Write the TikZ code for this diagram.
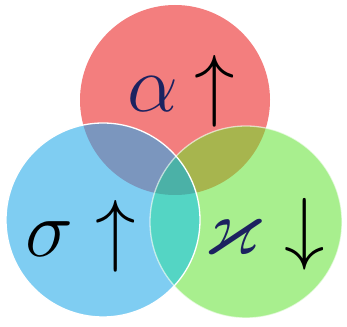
\documentclass[tikz,border=0pt]{standalone}
\usepackage{amssymb}

\definecolor{rosso}{HTML}{F37E7E}
\definecolor{azzurro}{HTML}{7FCDF2}
\definecolor{verde}{HTML}{A8EF8E}
\definecolor{rossoazzurro}{HTML}{7B96BE}
\definecolor{rossoverde}{HTML}{A7B54E}
\definecolor{azzurroverde}{HTML}{54D5C4}
\definecolor{centro}{HTML}{4BB1A7}
\definecolor{blunotte}{HTML}{1C2260}

\begin{document}
\begin{tikzpicture}[
			x=1pt, y=1pt,
			bordo/.style={draw=white, line width=1.3pt},
			simbolo/.style={anchor=base, inner sep=0pt, scale=3.25,
				font=\fontsize{24.88}{30}\selectfont}]
			
			\def\rR{95}    %% raggio cerchio rosso
			\def\rA{97}    %% raggio cerchio azzurro
			\def\rV{96}    %% raggio cerchio verde
			
			\useasboundingbox (0,0) rectangle (347,326);
			
			\coordinate (cR) at (175,226);
			\coordinate (cA) at (103,106);
			\coordinate (cV) at (246,104);
			
			%% --- cerchi pieni ---
			\fill[rosso] (cR) circle (\rR);
			\fill[azzurro] (cA) circle (\rA);
			\fill[verde] (cV) circle (\rV);
			
			%% --- intersezioni ---
			\begin{scope}
				\clip (cR) circle (\rR);
				\fill[rossoazzurro] (cA) circle (\rA);
				\fill[rossoverde] (cV) circle (\rV);
			\end{scope}
			\begin{scope}
				\clip (cA) circle (\rA);
				\fill[azzurroverde] (cV) circle (\rV);
				\clip (cR) circle (\rR);
				\fill[centro] (cV) circle (\rV);
			\end{scope}
			
			%% --- bordi bianchi ---
			\draw[bordo, draw opacity=0.6] (cV) circle (\rV);
			\draw[bordo] (cA) circle (\rA);
			
			%% --- etichette ---
			\node[simbolo] (alfa) at (181,214) {$\color{blunotte}\alpha\color{black}\mkern-1.5mu\uparrow$};
			\node[simbolo] (sigma) at (81,69) {$\sigma\uparrow$};
			\node[simbolo] (kappa) at (265,71) {$\color{blunotte}\varkappa\color{black}\downarrow$};
			
		\end{tikzpicture}
\end{document}
